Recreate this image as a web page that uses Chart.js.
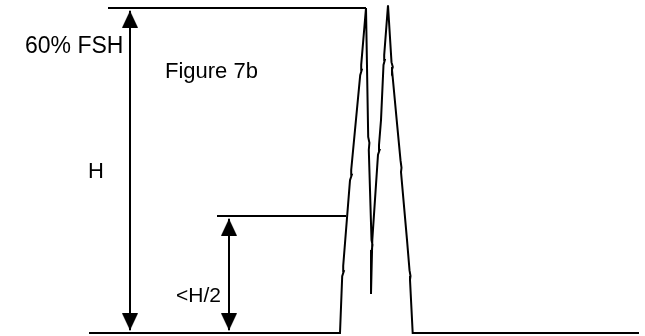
<!DOCTYPE html>
<html><head><meta charset="utf-8">
<script src="https://cdn.jsdelivr.net/npm/chart.js@4/dist/chart.umd.min.js"></script>
<style>html,body{margin:0;padding:0;background:#fff;}canvas{display:block;}</style>
</head><body>
<canvas id="c" width="645" height="336"></canvas>
<script>
// Trace: horizontal position (arbitrary units) and signal height (% FSH)
const traceX = [89,340,342.2,343.8,343.2,350,351.8,351.2,360.2,361.8,361.2,366,
  368.2,369.4,368.8,371.5,372.5,371.8,371,
  372.3,378,379.6,379,381,383.5,384.8,384.2,388,
  391.5,392.8,392,396.7,400.5,401.5,401,407,409.5,410.5,410,412.7,639];
const traceY = [0,0,10.5,11.4,12.4,28.2,29.2,30.1,47.6,48.6,49.5,60,
  36.2,35.1,33.8,17.2,16.3,15.3,7.2,
  17.2,32.9,33.8,34.7,39.3,49.5,50.4,51.3,60.5,
  50.0,49.1,48.6,39.3,31.9,30.5,29.7,17.2,11.6,10.5,9.8,0,0];
// Reference levels
const fullLevel = 60;      // 60% FSH = H
const halfLevel = 21.6;    // <H/2 marker
const topLineX = [108,366];
const halfLineX = [217,346];
const bigArrowX = 130;
const smallArrowX = 229;
const arrowTipGap = 0.5;
const labels = [
  {text:"60% FSH", x:25, y:52.8, size:23, align:'left'},
  {text:"Figure 7b", x:165, y:48.2, size:22, align:'left'},
  {text:"H", x:88, y:29.8, size:22, align:'left'},
  {text:"<H/2", x:221, y:6.8, size:21, align:'right'}
];

function arrowHead(up){
  const w=16,h=34,c=document.createElement('canvas');
  c.width=w;c.height=h;const g=c.getContext('2d');
  g.fillStyle='#000';g.beginPath();
  if(up){g.moveTo(w/2,h/2);g.lineTo(w,h);g.lineTo(0,h);}
  else{g.moveTo(w/2,h/2);g.lineTo(w,0);g.lineTo(0,0);}
  g.closePath();g.fill();return c;
}
const upHead=arrowHead(true), downHead=arrowHead(false);

const pts=(xs,ys)=>xs.map((x,i)=>({x:x,y:ys[i]}));
const lineDs=(data)=>({data:data,showLine:true,borderColor:'#000',borderWidth:2,pointRadius:0,tension:0,fill:false});

const labelPlugin={id:'labels',afterDatasetsDraw(chart){
  const ctx=chart.ctx,xs=chart.scales.x,ys=chart.scales.y;
  ctx.save();ctx.fillStyle='#000';ctx.textBaseline='middle';
  labels.forEach(l=>{
    ctx.font=l.size+'px "Liberation Sans", Arial, sans-serif';
    ctx.textAlign=l.align;
    ctx.fillText(l.text,xs.getPixelForValue(l.x),ys.getPixelForValue(l.y));
  });
  ctx.restore();
}};

new Chart(document.getElementById('c'),{
  type:'scatter',
  data:{datasets:[
    lineDs(pts(traceX,traceY)),
    lineDs(pts(topLineX,[fullLevel,fullLevel])),
    lineDs(pts(halfLineX,[halfLevel,halfLevel])),
    lineDs([{x:bigArrowX,y:arrowTipGap},{x:bigArrowX,y:fullLevel-arrowTipGap}]),
    lineDs([{x:smallArrowX,y:arrowTipGap},{x:smallArrowX,y:halfLevel-arrowTipGap}]),
    {data:[{x:bigArrowX,y:fullLevel-arrowTipGap},{x:smallArrowX,y:halfLevel-arrowTipGap}],pointStyle:upHead,pointRadius:8,showLine:false},
    {data:[{x:bigArrowX,y:arrowTipGap},{x:smallArrowX,y:arrowTipGap}],pointStyle:downHead,pointRadius:8,showLine:false}
  ]},
  options:{responsive:false,animation:false,devicePixelRatio:1,
    layout:{padding:0,autoPadding:false},
    plugins:{legend:{display:false},tooltip:{enabled:false}},
    scales:{x:{type:'linear',min:0,max:645,display:false},
            y:{type:'linear',min:-0.554,max:61.477,display:false}}
  },
  plugins:[labelPlugin]
});
</script>
</body></html>
